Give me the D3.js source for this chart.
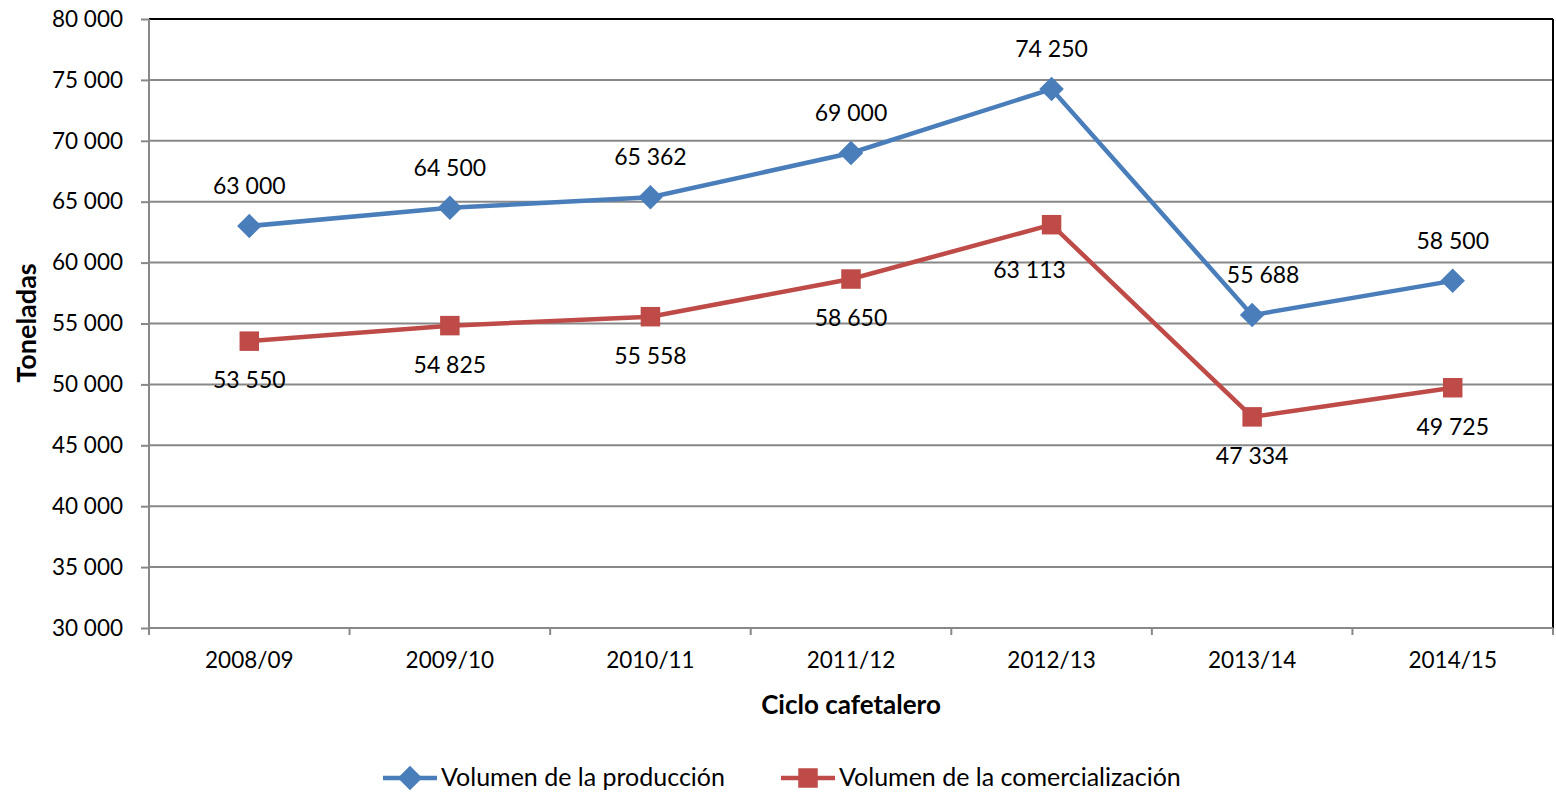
<!DOCTYPE html>
<html><head><meta charset="utf-8">
<script src="https://cdn.jsdelivr.net/npm/d3@7"></script>
<style>body{margin:0;background:#fff}svg{display:block}text{font-family:Lato,"Open Sans",sans-serif;fill:#000}</style>
</head><body><svg id="c" width="1556" height="792"></svg>
<script>
const categories = ["2008/09","2009/10","2010/11","2011/12","2012/13","2013/14","2014/15"];
const produccion = [63000,64500,65362,69000,74250,55688,58500];
const comercializacion = [53550,54825,55558,58650,63113,47334,49725];
const yTicks = [30000,35000,40000,45000,50000,55000,60000,65000,70000,75000,80000];
const seriesNames = ["Volumen de la producción","Volumen de la comercialización"];

const svg = d3.select("#c");
const L=149,R=1553,T=19,B=628;
const x = d3.scaleBand().domain(categories).range([L,R]);
const y = d3.scaleLinear().domain([30000,80000]).range([B,T]);
const fmt = v => d3.format(",")(v).replace(/,/g," ");

// gridlines
svg.append("g").selectAll("line").data(yTicks.filter(d=>d>30000)).join("line")
  .attr("x1",L).attr("x2",R).attr("y1",d=>y(d)).attr("y2",d=>y(d))
  .attr("stroke",d=>d===80000?"#000":"#888").attr("stroke-width",2);
svg.append("line").attr("x1",R).attr("x2",R).attr("y1",T).attr("y2",B).attr("stroke","#000").attr("stroke-width",2);

// axes
const ya = svg.append("g").attr("transform",`translate(${L},0)`)
  .call(d3.axisLeft(y).tickValues(yTicks).tickFormat(fmt).tickSize(8).tickPadding(18));
ya.select(".domain").attr("stroke","#888").attr("stroke-width",2).attr("d",`M0,${T}V${B}`);
ya.selectAll(".tick line").attr("stroke","#888").attr("stroke-width",2);
ya.selectAll("text").attr("font-size",22.5).style("fill","#000");

const xa = svg.append("g").attr("transform",`translate(0,${B})`)
  .call(d3.axisBottom(x).tickSize(0).tickPadding(24));
xa.select(".domain").attr("stroke","#888").attr("stroke-width",2).attr("d",`M${L},0H${R}`);
xa.selectAll("text").attr("font-size",22.5).style("fill","#000");
// boundary ticks
const bounds = d3.range(categories.length+1).map(i=>L+i*x.step());
svg.append("g").selectAll("line").data(bounds).join("line")
  .attr("x1",d=>d).attr("x2",d=>d).attr("y1",B).attr("y2",B+7).attr("stroke","#888").attr("stroke-width",2);

// titles
svg.append("text").attr("x",851).attr("y",714).attr("text-anchor","middle")
  .attr("font-size",26).attr("font-weight","bold").text("Ciclo cafetalero");
svg.append("text").attr("transform",`translate(36,${323}) rotate(-90)`).attr("text-anchor","middle")
  .attr("font-size",27).attr("font-weight","bold").text("Toneladas");

const cx = d => x(d)+x.bandwidth()/2;
const line = d3.line().x(d=>cx(d.c)).y(d=>y(d.v));
const blue="#4a7ebb", red="#be4b48";
const pd = categories.map((c,i)=>({c,v:produccion[i]}));
const cd = categories.map((c,i)=>({c,v:comercializacion[i]}));

svg.append("path").datum(pd).attr("d",line).attr("fill","none").attr("stroke",blue).attr("stroke-width",4.5);
svg.append("path").datum(cd).attr("d",line).attr("fill","none").attr("stroke",red).attr("stroke-width",4.5);

const diamond = d3.symbol().type(d3.symbolSquare).size(300);
svg.append("g").selectAll("path").data(pd).join("path")
  .attr("d",diamond).attr("transform",d=>`translate(${cx(d.c)},${y(d.v)}) rotate(45)`).attr("fill",blue);
const sq = d3.symbol().type(d3.symbolSquare).size(380);
svg.append("g").selectAll("path").data(cd).join("path")
  .attr("d",sq).attr("transform",d=>`translate(${cx(d.c)},${y(d.v)})`).attr("fill",red);

// labels
const pdx=[0,0,0,0,0,11,0];
svg.append("g").selectAll("text").data(pd).join("text")
  .attr("x",(d,i)=>cx(d.c)+pdx[i]).attr("y",d=>y(d.v)-32).attr("text-anchor","middle").attr("font-size",23).text(d=>fmt(d.v));
const cdx=[0,0,0,0,-22,0,0];
const cdy=[0,0,0,0,6,0,0];
svg.append("g").selectAll("text").data(cd).join("text")
  .attr("x",(d,i)=>cx(d.c)+cdx[i]).attr("y",(d,i)=>y(d.v)+47+cdy[i]).attr("text-anchor","middle").attr("font-size",23).text(d=>fmt(d.v));

// legend
const lg = svg.append("g");
[[383,blue,"d"],[781,red,"s"]].forEach(([lx,col,t],i)=>{
  lg.append("line").attr("x1",lx).attr("x2",lx+54).attr("y1",778).attr("y2",778).attr("stroke",col).attr("stroke-width",4.5);
  lg.append("path").attr("d",t==="d"?diamond():sq()).attr("fill",col)
    .attr("transform",`translate(${lx+27},778)${t==="d"?" rotate(45)":""}`);
  lg.append("text").attr("x",lx+58).attr("y",786).attr("font-size",25).text(seriesNames[i]);
});
</script></body></html>
